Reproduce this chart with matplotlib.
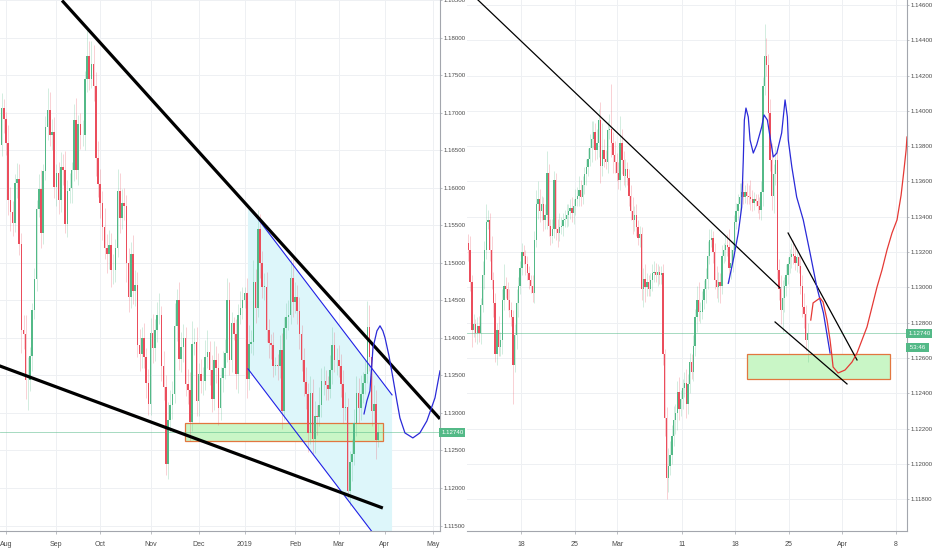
"""EURUSD daily and 4h charts with trend lines and support zones, TradingView style."""

import matplotlib

matplotlib.use("Agg")

import matplotlib.pyplot as plt
import numpy as np
import pandas as pd
from matplotlib.patches import Polygon, Rectangle
from matplotlib.transforms import blended_transform_factory

# ---------------------------------------------------------------- daily data
# one bar per weekday starting 2018-07-27, last bar 2019-03-27
daily_first_open = 1.1640
daily_closes = [
    1.1657, 1.1706, 1.1691,
    # Aug
    1.1659, 1.1583, 1.1567, 1.1553, 1.1606, 1.1611, 1.1525, 1.1410, 1.1405, 1.1344,
    1.1344, 1.1376, 1.1437, 1.1478, 1.1571, 1.1598, 1.1540, 1.1622, 1.1681, 1.1703,
    1.1670, 1.1674, 1.1601,
    # Sep
    1.1619, 1.1583, 1.1627, 1.1624, 1.1552, 1.1595, 1.1600, 1.1624, 1.1690, 1.1624,
    1.1685, 1.1670, 1.1670, 1.1745, 1.1776, 1.1745, 1.1765, 1.1736, 1.1640, 1.1605,
    # Oct
    1.1580, 1.1548, 1.1520, 1.1512, 1.1524, 1.1490, 1.1490, 1.1520, 1.1595, 1.1560,
    1.1580, 1.1575, 1.1500, 1.1455, 1.1512, 1.1463, 1.1470, 1.1390, 1.1378, 1.1400,
    1.1375, 1.1340, 1.1312,
    # Nov
    1.1407, 1.1387, 1.1410, 1.1430, 1.1430, 1.1362, 1.1335, 1.1232, 1.1290, 1.1310,
    1.1325, 1.1416, 1.1450, 1.1372, 1.1388, 1.1400, 1.1338, 1.1330, 1.1288, 1.1392,
    1.1395, 1.1316,
    # Dec
    1.1352, 1.1342, 1.1343, 1.1375, 1.1381, 1.1357, 1.1319, 1.1371, 1.1360, 1.1306,
    1.1346, 1.1360, 1.1380, 1.1450, 1.1370, 1.1420, 1.1405, 1.1352, 1.1430, 1.1440,
    1.1450,
    # Jan
    1.1460, 1.1345, 1.1392, 1.1395, 1.1474, 1.1440, 1.1545, 1.1500, 1.1468, 1.1468,
    1.1410, 1.1393, 1.1390, 1.1363, 1.1364, 1.1362, 1.1384, 1.1303, 1.1413, 1.1428,
    1.1430, 1.1480, 1.1448,
    # Feb
    1.1455, 1.1436, 1.1405, 1.1371, 1.1341, 1.1325, 1.1273, 1.1327, 1.1265, 1.1296,
    1.1295, 1.1310, 1.1342, 1.1342, 1.1337, 1.1332, 1.1357, 1.1390, 1.1370, 1.1371,
    # Mar
    1.1363, 1.1339, 1.1306, 1.1308, 1.1196, 1.1234, 1.1245, 1.1287, 1.1327, 1.1306,
    1.1325, 1.1340, 1.1352, 1.1414, 1.1374, 1.1302, 1.1312, 1.1264, 1.1274,
]
# wick lengths beyond the body, in pips
daily_wick_up = [
    15, 20, 12,
    10, 25, 18, 15, 12, 22, 20, 15, 20, 25, 30, 12, 10, 15, 12, 20, 25, 10, 15, 30, 25, 18, 20,
    12, 15, 20, 18, 25, 15, 20, 10, 22, 30, 12, 15, 20, 10, 40, 20, 30, 25, 18, 22,
    20, 15, 25, 18, 20, 15, 22, 12, 30, 25, 18, 20, 15, 20, 15, 25, 20, 18, 22, 15, 20, 12, 18,
    20, 25, 15, 18, 30, 12, 20, 15, 25, 20, 18, 30, 15, 25, 20, 18, 15, 20, 25, 30, 18, 20,
    15, 20, 18, 22, 30, 15, 20, 25, 18, 20, 15, 22, 18, 30, 25, 15, 8, 20, 15, 22, 18,
    8, 20, 25, 15, 30, 18, 25, 20, 15, 18, 20, 15, 12, 18, 10, 15, 20, 22, 15, 18, 20, 25, 30,
    20, 15, 18, 12, 15, 20, 15, 22, 18, 20, 15, 25, 18, 20, 15, 12, 20, 25, 18, 15,
    20, 15, 18, 20, 12, 15, 20, 18, 22, 20, 25, 15, 18, 35, 30, 20, 25, 18, 12,
]
daily_wick_down = [
    20, 15, 18,
    15, 20, 25, 18, 12, 20, 15, 30, 20, 25, 40, 15, 20, 12, 15, 10, 20, 15, 12, 18, 15, 20, 15,
    25, 18, 15, 20, 12, 18, 15, 20, 15, 12, 20, 18, 15, 20, 18, 15, 12, 20, 25, 18,
    20, 18, 15, 25, 20, 22, 18, 15, 12, 20, 15, 18, 25, 20, 15, 18, 20, 15, 22, 18, 15, 20, 15,
    15, 20, 18, 15, 12, 20, 18, 15, 20, 15, 18, 12, 20, 15, 18, 20, 15, 18, 25, 12, 15, 20,
    20, 15, 18, 12, 15, 20, 18, 15, 20, 22, 15, 18, 15, 12, 20, 15, 8, 20, 25, 12, 15,
    10, 25, 15, 12, 18, 20, 12, 20, 15, 18, 15, 20, 18, 15, 12, 18, 15, 25, 12, 15, 18, 12, 20,
    15, 18, 20, 15, 18, 20, 25, 15, 20, 18, 25, 12, 15, 18, 20, 15, 12, 18, 15, 20,
    15, 18, 20, 15, 10, 20, 25, 15, 18, 20, 15, 12, 15, 12, 18, 20, 15, 25, 10,
]
daily_start = "2018-07-27"
daily_tick_dates = ["2018-08-01", "2018-09-01", "2018-10-01", "2018-11-01", "2018-12-01",
                    "2019-01-01", "2019-02-01", "2019-03-01", "2019-04-01", "2019-05-01"]
daily_tick_labels = ["Aug", "Sep", "Oct", "Nov", "Dec", "2019", "Feb", "Mar", "Apr", "May"]
daily_yticks = [1.115, 1.120, 1.125, 1.130, 1.135, 1.140, 1.145, 1.150, 1.155,
                1.160, 1.165, 1.170, 1.175, 1.180, 1.185]

# ------------------------------------------------------------------ 4h data
# six bars per weekday starting 2019-02-11, last bar 2019-03-26 16:00
h4_first_open = 1.1325
h4_closes = [
    1.1321, 1.1303, 1.1276, 1.1279, 1.1274, 1.1278,  # Feb 11
    1.1274, 1.1290, 1.1307, 1.1321, 1.1337, 1.1338,
    1.1321, 1.1304, 1.1291, 1.1262, 1.1276, 1.1266,
    1.1270, 1.1293, 1.1301, 1.1299, 1.1293, 1.1287,
    1.1283, 1.1256, 1.1273, 1.1291, 1.1301, 1.1311,
    1.1320, 1.1318, 1.1313, 1.1308, 1.1304, 1.1301,  # Feb 18
    1.1297, 1.1327, 1.1347, 1.1350, 1.1343, 1.1347,
    1.1338, 1.1341, 1.1365, 1.1335, 1.1329, 1.1333,
    1.1361, 1.1333, 1.1331, 1.1334, 1.1335, 1.1338,
    1.1339, 1.1341, 1.1343, 1.1345, 1.1342, 1.1346,
    1.1350, 1.1352, 1.1355, 1.1351, 1.1358, 1.1364,  # Feb 25
    1.1368, 1.1373, 1.1379, 1.1384, 1.1388, 1.1378,
    1.1382, 1.1395, 1.1369, 1.1378, 1.1373, 1.1371,
    1.1389, 1.1390, 1.1382, 1.1375, 1.1371, 1.1365,
    1.1361, 1.1382, 1.1372, 1.1363, 1.1367, 1.1362,
    1.1352, 1.1343, 1.1338, 1.1341, 1.1334, 1.1328,  # Mar 4
    1.1330, 1.1299, 1.1305, 1.1300, 1.1303, 1.1299,
    1.1304, 1.1308, 1.1309, 1.1307, 1.1309, 1.1307,
    1.1308, 1.1262, 1.1226, 1.1192, 1.1199, 1.1205,
    1.1216, 1.1225, 1.1229, 1.1241, 1.1231, 1.1237,
    1.1243, 1.1246, 1.1234, 1.1245, 1.1258, 1.1252,  # Mar 11
    1.1267, 1.1283, 1.1293, 1.1286, 1.1286, 1.1293,
    1.1299, 1.1305, 1.1318, 1.1327, 1.1328, 1.1320,
    1.1304, 1.1300, 1.1303, 1.1301, 1.1318, 1.1321,
    1.1324, 1.1323, 1.1311, 1.1314, 1.1321, 1.1337,
    1.1343, 1.1347, 1.1351, 1.1354, 1.1351, 1.1354,  # Mar 18
    1.1352, 1.1351, 1.1350, 1.1348, 1.1350, 1.1349,
    1.1346, 1.1344, 1.1354, 1.1414, 1.1431, 1.1426,
    1.1399, 1.1372, 1.1352, 1.1364, 1.1372, 1.1310,
    1.1299, 1.1287, 1.1294, 1.1301, 1.1307, 1.1313,
    1.1317, 1.1319, 1.1318, 1.1314, 1.1317, 1.1312,  # Mar 25
    1.1301, 1.1289, 1.1285, 1.1270, 1.1274,
]
h4_wick_up = [
    5, 8, 4, 6, 3, 5, 6, 4, 8, 5, 10, 6, 4, 8, 5, 6, 4, 8, 5, 6, 12, 5, 4, 6, 5, 4, 6, 8, 5, 4,
    5, 4, 3, 5, 4, 3, 6, 5, 8, 10, 6, 5, 4, 6, 12, 5, 4, 6, 5, 4, 6, 8, 5, 4, 5, 6, 4, 5, 6, 4,
    6, 5, 8, 6, 5, 4, 5, 6, 8, 10, 6, 5, 8, 6, 10, 15, 6, 5, 5, 8, 25, 6, 8, 5, 6, 15, 8, 5, 6, 4,
    5, 6, 8, 5, 6, 4, 5, 4, 6, 8, 5, 4, 4, 5, 6, 5, 4, 3, 4, 5, 3, 6, 10, 8, 6, 8, 5, 6, 8, 5,
    5, 6, 8, 6, 5, 4, 6, 5, 8, 10, 6, 5, 5, 6, 8, 6, 5, 4, 5, 8, 6, 5, 6, 4, 5, 6, 10, 8, 6, 4,
    5, 6, 8, 5, 6, 4, 5, 6, 10, 5, 4, 3, 4, 5, 6, 5, 18, 10, 6, 8, 10, 6, 8, 5, 6, 8, 10, 5, 6, 4,
    5, 6, 8, 5, 4, 3, 5, 6, 8, 5, 6,
]
h4_wick_down = [
    6, 5, 10, 4, 5, 6, 5, 6, 4, 8, 5, 4, 6, 5, 8, 4, 6, 5, 5, 8, 6, 5, 6, 4, 5, 22, 4, 8, 8, 5,
    4, 5, 6, 4, 5, 4, 5, 6, 4, 8, 6, 5, 6, 5, 8, 6, 5, 4, 5, 6, 8, 5, 4, 6, 4, 5, 6, 4, 5, 6,
    5, 4, 6, 5, 4, 5, 6, 5, 4, 8, 5, 6, 5, 8, 10, 6, 5, 4, 6, 5, 8, 10, 6, 5, 5, 6, 8, 5, 6, 4,
    6, 5, 8, 6, 5, 4, 5, 6, 10, 8, 5, 4, 4, 6, 5, 4, 6, 5, 5, 6, 10, 12, 8, 5, 5, 6, 8, 10, 6, 4,
    6, 5, 8, 6, 5, 4, 5, 6, 8, 5, 6, 4, 5, 8, 6, 5, 4, 6, 5, 6, 8, 10, 5, 4, 6, 5, 8, 6, 5, 4,
    4, 5, 6, 5, 4, 3, 5, 4, 6, 5, 4, 3, 4, 5, 6, 8, 5, 6, 5, 6, 8, 10, 6, 5, 6, 8, 12, 8, 6, 5,
    5, 6, 5, 4, 5, 4, 5, 6, 8, 6, 12,
]
h4_start = "2019-02-11"
h4_bars_per_day = 6
h4_tick_dates = ["2019-02-18", "2019-02-25", "2019-03-01", "2019-03-11",
                 "2019-03-18", "2019-03-25", "2019-04-01", "2019-04-08"]
h4_tick_labels = ["18", "25", "Mar", "11", "18", "25", "Apr", "8"]
h4_yticks = [1.118, 1.120, 1.122, 1.124, 1.126, 1.128, 1.130, 1.132, 1.134,
             1.136, 1.138, 1.140, 1.142, 1.144, 1.146]

last_price = 1.12740
bar_countdown = "53:46"

UP = "#53b987"
DOWN = "#eb4d5c"
TEXT = "#4a4a4a"
GRID = "#eef0f3"
AXIS = "#a3a6ad"
ZONE_FACE = "#c9f6c6"
ZONE_EDGE = "#e2763f"
LABEL_FONT = ["Liberation Sans Narrow", "Liberation Sans", "DejaVu Sans"]

plt.rcParams["font.family"] = LABEL_FONT


def build_ohlc(first_open, closes, wick_up, wick_down):
    """Opens follow the previous close; wicks are given in pips."""
    n = min(len(closes), len(wick_up), len(wick_down))
    closes = np.asarray(closes[:n])
    opens = np.concatenate([[first_open], closes[:-1]])
    highs = np.maximum(opens, closes) + np.asarray(wick_up[:n]) / 10000
    lows = np.minimum(opens, closes) - np.asarray(wick_down[:n]) / 10000
    return opens, closes, highs, lows


def draw_candles(ax, x, opens, closes, highs, lows, width):
    colors = np.where(closes >= opens, UP, DOWN)
    ax.vlines(x, lows, highs, colors=colors, lw=0.6, alpha=0.3, zorder=3)
    bottoms = np.minimum(opens, closes)
    heights = np.maximum(np.abs(closes - opens), 0.00005)
    ax.bar(x, heights, width, bottom=bottoms, color=colors, lw=0, zorder=4)


def style_axis(ax, xticks, xlabels, yticks):
    ax.set_facecolor("none")
    ax.yaxis.tick_right()
    ax.set_yticks(yticks)
    ax.set_yticklabels([f"{v:.5f}" for v in yticks])
    ax.set_xticks(xticks)
    ax.set_xticklabels(xlabels)
    ax.tick_params(axis="both", colors=TEXT, width=0.5, color=AXIS)
    ax.tick_params(axis="x", labelsize=5, length=2, pad=5)
    ax.tick_params(axis="y", labelsize=4.4, length=1.5, pad=1)
    ax.grid(True, color=GRID, lw=0.7, zorder=0)
    ax.set_axisbelow(True)
    for side in ("top", "left"):
        ax.spines[side].set_visible(False)
    for side in ("right", "bottom"):
        ax.spines[side].set_color(AXIS)
        ax.spines[side].set_linewidth(0.8)


def price_tag(ax, y, text):
    trans = blended_transform_factory(ax.transAxes, ax.transData)
    ax.text(1.003, y, text, transform=trans, ha="left", va="center", fontsize=4.4,
            color="white", clip_on=False, zorder=10,
            bbox=dict(boxstyle="square,pad=0.3", fc=UP, ec="none"))


fig = plt.figure(figsize=(9.32, 5.5), dpi=100)
ax_d = fig.add_axes([0.0, 19 / 550, 440 / 932, 531 / 550])
ax_h = fig.add_axes([467 / 932, 19 / 550, 440 / 932, 531 / 550])

# ------------------------------------------------------------- daily panel
d_open, d_close, d_high, d_low = build_ohlc(daily_first_open, daily_closes,
                                            daily_wick_up, daily_wick_down)
d_x = np.arange(len(d_close))
d_days = pd.bdate_range(daily_start, "2019-05-10")
d_ticks = [d_days.searchsorted(pd.Timestamp(t)) for t in daily_tick_dates]

ax_d.set_xlim(0.26, 201.2)
ax_d.set_ylim(1.11427, 1.18493)
style_axis(ax_d, d_ticks, daily_tick_labels, daily_yticks)

# descending channel from the January high
upper = np.array([[113.5, 1.1576], [179.3, 1.1324]])
lower = np.array([[113.5, 1.13587], [179.3, 1.11067]])
ax_d.add_patch(Polygon([upper[0], upper[1], lower[1], lower[0]], closed=True,
                       fc="#ddf6fa", ec="none", zorder=1))

ax_d.add_patch(Rectangle((84.7, 1.12627), 175.1 - 84.7, 1.12867 - 1.12627,
                         fc=ZONE_FACE, ec=ZONE_EDGE, lw=0.9, zorder=2))

draw_candles(ax_d, d_x, d_open, d_close, d_high, d_low, width=0.72)

ax_d.plot(upper[:, 0], upper[:, 1], color="#1f1fe6", lw=0.8, zorder=5)
ax_d.plot(lower[:, 0], lower[:, 1], color="#1f1fe6", lw=0.8, zorder=5)
ax_d.plot([28.6, 201.2], [1.18493, 1.12920], color="black", lw=2.3, zorder=6,
          solid_capstyle="butt")
ax_d.plot([-1.0, 175.1], [1.13638, 1.11733], color="black", lw=2.3, zorder=6,
          solid_capstyle="butt")

blue_path_x = [166.5, 167.8, 169.2, 170.6, 172.4, 173.8, 175.1, 176.1, 177.9, 179.7,
               181.5, 182.9, 185.2, 188.8, 192.0, 195.2, 198.9, 201.2]
blue_path_y = [1.12987, 1.13160, 1.13293, 1.13867, 1.14093, 1.14160, 1.14093, 1.14000,
               1.13760, 1.13467, 1.13160, 1.12933, 1.12733, 1.12667, 1.12733, 1.12893,
               1.13200, 1.13560]
ax_d.plot(blue_path_x, blue_path_y, color="#2a2ad8", lw=0.9, zorder=7)

ax_d.axhline(last_price, color=UP, lw=0.6, alpha=0.6, zorder=2)
price_tag(ax_d, last_price, f"{last_price:.5f}")

# ---------------------------------------------------------------- 4h panel
h_open, h_close, h_high, h_low = build_ohlc(h4_first_open, h4_closes,
                                            h4_wick_up, h4_wick_down)
h_x = np.arange(len(h_close))
h_days = pd.bdate_range(h4_start, "2019-04-12")
h_ticks = [h4_bars_per_day * h_days.searchsorted(pd.Timestamp(t)) - 0.5
           for t in h4_tick_dates]

ax_h.set_xlim(-0.75, 245.7)
ax_h.set_ylim(1.11620, 1.14628)
style_axis(ax_h, h_ticks, h4_tick_labels, h4_yticks)

ax_h.add_patch(Rectangle((156.1, 1.12481), 236.2 - 156.1, 1.12623 - 1.12481,
                         fc=ZONE_FACE, ec=ZONE_EDGE, lw=0.9, zorder=2))

draw_candles(ax_h, h_x, h_open, h_close, h_high, h_low, width=0.72)

ax_h.plot([5.4, 174.6], [1.14628, 1.12997], color="black", lw=0.9, zorder=6)
ax_h.plot([179.1, 217.7], [1.13308, 1.12589], color="black", lw=0.9, zorder=6)
ax_h.plot([171.8, 212.1], [1.12804, 1.12453], color="black", lw=0.9, zorder=6)

blue_h_x = [145.6, 148.4, 151.2, 153.1, 154.0, 154.6, 155.5, 156.8, 157.8, 159.6,
            161.5, 164.3, 165.6, 167.5, 169.0, 170.8, 172.8, 175.5, 177.4, 178.7,
            179.2, 181.2, 183.9, 187.6, 191.4, 195.2, 198.9, 202.6]
blue_h_y = [1.13023, 1.13155, 1.13308, 1.13455, 1.13722, 1.13948, 1.14016, 1.13965,
            1.13835, 1.13761, 1.13807, 1.13909, 1.13977, 1.13948, 1.13852, 1.13739,
            1.13761, 1.13875, 1.14062, 1.13965, 1.13835, 1.13682, 1.13512, 1.13382,
            1.13195, 1.13002, 1.12855, 1.12628]
ax_h.plot(blue_h_x, blue_h_y, color="#2a2ad8", lw=0.9, zorder=7)

red_h_x = [191.8, 193.1, 197.0, 198.7, 200.9, 202.6, 203.7, 204.3, 207.1, 211.0,
           214.9, 217.7, 220.5, 223.3, 226.1, 228.9, 231.7, 234.5, 237.3, 240.1,
           242.4, 244.0, 245.2, 245.7]
red_h_y = [1.12815, 1.12912, 1.12940, 1.12917, 1.12815, 1.12702, 1.12606, 1.12549,
           1.12515, 1.12532, 1.12577, 1.12628, 1.12702, 1.12776, 1.12889, 1.13002,
           1.13099, 1.13212, 1.13308, 1.13382, 1.13523, 1.13665, 1.13778, 1.13852]
ax_h.plot(red_h_x, red_h_y, color="#e53935", lw=0.9, zorder=7)

ax_h.axhline(last_price, color=UP, lw=0.6, alpha=0.6, zorder=2)
price_tag(ax_h, last_price, f"{last_price:.5f}")
price_tag(ax_h, last_price - 0.00079, f" {bar_countdown} ")

fig.savefig("out.png", dpi=100, facecolor="white")
